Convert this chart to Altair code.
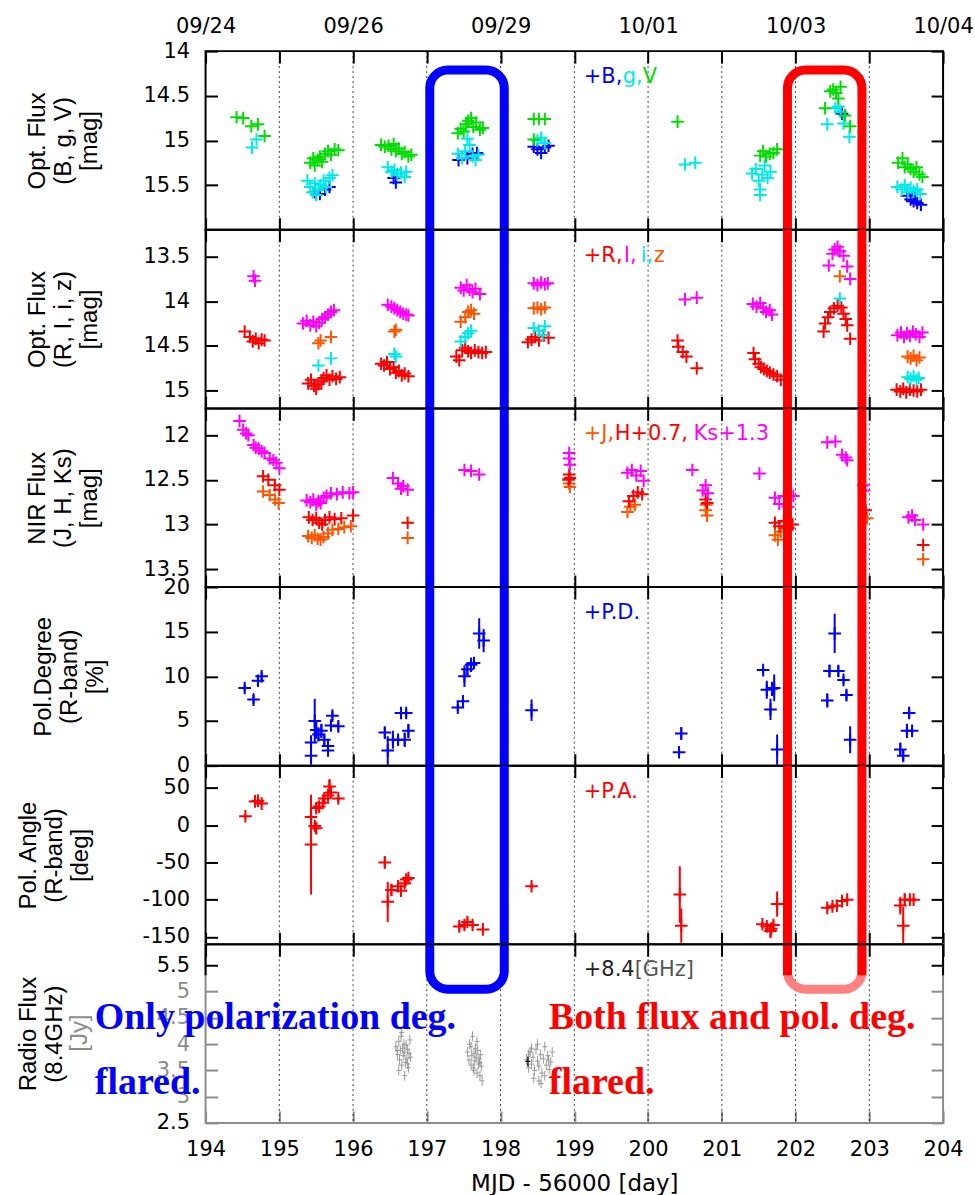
import json
import altair as alt
import pandas as pd

# ======================= DATA =======================
X_TICKS = [194, 195, 196, 197, 198, 199, 200, 201, 202, 203, 204]
GRID_X = [195, 196, 197, 198, 199, 200, 201, 202, 203]
TOP_TICK_MJD = [194, 196, 198, 200, 202, 204]
TOP_TICK_DATES = ["09/24", "09/26", "09/29", "10/01", "10/03", "10/04"]

Y1_TICKS = [14, 14.5, 15, 15.5]
Y2_TICKS = [13.5, 14, 14.5, 15]
Y3_TICKS = [12, 12.5, 13, 13.5]
Y4_TICKS = [0, 5, 10, 15, 20]
Y5_TICKS = [-150, -100, -50, 0, 50]
Y6_TICKS = [2.5, 3, 3.5, 4, 4.5, 5, 5.5]

T1 = ["Opt. Flux", "(B, g, V)", "[mag]"]
T2 = ["Opt. Flux", "(R, I, i, z)", "[mag]"]
T3 = ["NIR Flux", "(J, H, Ks)", "[mag]"]
T4 = ["Pol.Degree", "(R-band)", "[%]"]
T5 = ["Pol. Angle", "(R-band)", "[deg]"]
T6 = ["Radio Flux", "(8.4GHz)"]
T6_UNIT = "[Jy]"
X_TITLE = "MJD - 56000 [day]"

L1 = ["+B,", "g,", "V"]
L2 = ["+R,", "I,", "i,", "z"]
L3 = ["+J,", "H+0.7,", "Ks+1.3"]
L4 = ["+P.D."]
L5 = ["+P.A."]
L6 = ["+8.4", "[GHz]"]
NOTE_BLUE = ["Only polarization deg.", "flared."]
NOTE_RED = ["Both flux and pol. deg.", "flared."]

# Panel 1: B, g, V [mag]
B_BAND = [(195.48, 15.58), (195.55, 15.60), (195.62, 15.55), (195.68, 15.52),
          (196.55, 15.42), (196.58, 15.47),
          (197.43, 15.22), (197.55, 15.20), (197.62, 15.15), (197.68, 15.14),
          (198.45, 15.07), (198.50, 15.10), (198.55, 15.14), (198.60, 15.08), (198.65, 15.06),
          (202.63, 14.70),
          (203.51, 15.62), (203.56, 15.66), (203.60, 15.68), (203.62, 15.60), (203.65, 15.70), (203.70, 15.72)]
G_BAND = [(194.63, 15.08), (194.69, 14.99),
          (195.38, 15.45), (195.42, 15.52), (195.45, 15.58), (195.48, 15.48), (195.50, 15.61), (195.53, 15.55),
          (195.56, 15.50), (195.60, 15.45), (195.63, 15.52), (195.68, 15.42), (195.72, 15.39),
          (196.47, 15.30), (196.52, 15.35), (196.56, 15.33), (196.60, 15.38), (196.65, 15.36), (196.70, 15.41), (196.72, 15.35),
          (197.42, 15.15), (197.48, 15.20), (197.52, 15.12), (197.55, 14.98), (197.58, 15.05), (197.62, 15.18), (197.66, 15.22), (197.70, 15.16),
          (198.50, 15.00), (198.55, 14.97), (198.60, 15.03),
          (200.50, 15.27), (200.64, 15.25),
          (201.41, 15.37), (201.46, 15.32), (201.50, 15.45), (201.52, 15.55), (201.52, 15.61), (201.55, 15.38), (201.58, 15.28), (201.62, 15.42), (201.66, 15.35),
          (202.43, 14.82), (202.54, 14.64), (202.58, 14.62), (202.61, 14.68), (202.65, 14.81), (202.73, 14.96),
          (203.38, 15.52), (203.44, 15.55), (203.48, 15.50), (203.52, 15.58), (203.56, 15.53), (203.60, 15.57), (203.65, 15.55), (203.69, 15.60)]
V_BAND = [(194.42, 14.74), (194.51, 14.75), (194.62, 14.84), (194.71, 14.82), (194.80, 14.95),
          (195.42, 15.25), (195.46, 15.20), (195.48, 15.28), (195.52, 15.22), (195.55, 15.18), (195.58, 15.24),
          (195.62, 15.15), (195.66, 15.12), (195.70, 15.16), (195.75, 15.10), (195.80, 15.11),
          (196.38, 15.05), (196.43, 15.07), (196.48, 15.06), (196.52, 15.10), (196.55, 15.04), (196.58, 15.12),
          (196.62, 15.09), (196.66, 15.15), (196.70, 15.13), (196.75, 15.18), (196.79, 15.16),
          (197.42, 14.92), (197.46, 14.87), (197.50, 14.90), (197.53, 14.82), (197.56, 14.78), (197.60, 14.75),
          (197.63, 14.85), (197.67, 14.80), (197.72, 14.88), (197.76, 14.86),
          (198.45, 14.76), (198.52, 14.76), (198.60, 14.76), (198.45, 14.99),
          (200.40, 14.79),
          (201.52, 15.17), (201.56, 15.12), (201.60, 15.18), (201.65, 15.15), (201.70, 15.14), (201.75, 15.10),
          (202.40, 14.64), (202.47, 14.45), (202.51, 14.43), (202.55, 14.47), (202.58, 14.53), (202.61, 14.40),
          (202.67, 14.72), (202.74, 14.84),
          (203.39, 15.25), (203.45, 15.20), (203.48, 15.30), (203.52, 15.27), (203.56, 15.32), (203.60, 15.35),
          (203.64, 15.30), (203.68, 15.38), (203.72, 15.41)]

# Panel 2: R, I, i, z [mag]
R_BAND = [(194.53, 14.34), (194.60, 14.40), (194.64, 14.45), (194.68, 14.42), (194.72, 14.47), (194.76, 14.43), (194.80, 14.44),
          (195.39, 14.92), (195.43, 14.88), (195.47, 14.95), (195.50, 14.98), (195.53, 14.93), (195.57, 14.90),
          (195.60, 14.86), (195.64, 14.83), (195.68, 14.88), (195.72, 14.84), (195.77, 14.87), (195.82, 14.85),
          (196.38, 14.70), (196.42, 14.72), (196.46, 14.68), (196.50, 14.76), (196.55, 14.74), (196.58, 14.80),
          (196.62, 14.78), (196.66, 14.83), (196.70, 14.81), (196.75, 14.84),
          (197.40, 14.62), (197.44, 14.66), (197.48, 14.55), (197.52, 14.52), (197.56, 14.56), (197.60, 14.58),
          (197.65, 14.55), (197.70, 14.57), (197.75, 14.58), (197.80, 14.57),
          (198.37, 14.46), (198.42, 14.43), (198.47, 14.40), (198.52, 14.44), (198.58, 14.38), (198.65, 14.41),
          (200.40, 14.44), (200.41, 14.51), (200.47, 14.57), (200.52, 14.62), (200.66, 14.75),
          (201.43, 14.58), (201.45, 14.65), (201.50, 14.70), (201.53, 14.74), (201.57, 14.76), (201.61, 14.78),
          (201.65, 14.80), (201.70, 14.82), (201.75, 14.84), (201.80, 14.88),
          (202.38, 14.34), (202.40, 14.25), (202.44, 14.18), (202.47, 14.12), (202.52, 14.08), (202.57, 14.05),
          (202.62, 14.07), (202.65, 14.14), (202.68, 14.20), (202.70, 14.27), (202.74, 14.42),
          (203.37, 14.99), (203.42, 15.01), (203.46, 14.98), (203.50, 15.02), (203.55, 14.99), (203.60, 15.00),
          (203.65, 15.01), (203.70, 14.99)]
I_BAND = [(194.65, 13.72), (194.67, 13.77),
          (195.32, 14.25), (195.37, 14.22), (195.42, 14.27), (195.46, 14.23), (195.50, 14.28), (195.54, 14.24),
          (195.58, 14.20), (195.62, 14.18), (195.66, 14.15), (195.70, 14.12), (195.74, 14.10),
          (196.47, 14.04), (196.52, 14.06), (196.56, 14.08), (196.60, 14.10), (196.64, 14.12), (196.68, 14.14),
          (196.72, 14.15), (196.75, 14.16),
          (197.46, 13.85), (197.50, 13.88), (197.54, 13.82), (197.58, 13.87), (197.62, 13.90), (197.66, 13.86), (197.72, 13.92),
          (198.45, 13.80), (198.50, 13.82), (198.55, 13.79), (198.60, 13.81), (198.64, 13.80),
          (200.50, 13.98), (200.66, 13.96),
          (201.42, 14.03), (201.47, 14.06), (201.52, 14.02), (201.56, 14.08), (201.60, 14.12), (201.65, 14.10), (201.68, 14.15),
          (202.45, 13.60), (202.50, 13.47), (202.53, 13.42), (202.57, 13.39), (202.60, 13.44), (202.65, 13.49),
          (202.70, 13.61), (202.74, 13.75),
          (203.38, 14.38), (203.43, 14.35), (203.47, 14.40), (203.51, 14.36), (203.55, 14.39), (203.59, 14.34),
          (203.63, 14.37), (203.68, 14.40), (203.72, 14.35)]
SI_BAND = [(195.53, 14.72), (195.70, 14.64),
           (196.56, 14.59), (196.58, 14.62),
           (197.46, 14.45), (197.52, 14.40), (197.56, 14.36), (197.60, 14.33),
           (198.45, 14.30), (198.52, 14.33), (198.57, 14.38), (198.60, 14.28),
           (202.60, 13.97),
           (203.52, 14.85), (203.56, 14.87), (203.60, 14.84), (203.64, 14.88), (203.67, 14.86)]
Z_BAND = [(195.53, 14.47), (195.56, 14.44), (195.70, 14.40),
          (196.56, 14.34), (196.58, 14.32),
          (197.46, 14.23), (197.52, 14.18), (197.56, 14.12), (197.60, 14.10), (197.64, 14.14),
          (198.45, 14.08), (198.50, 14.07), (198.55, 14.09), (198.60, 14.07),
          (202.60, 13.72),
          (203.52, 14.62), (203.56, 14.64), (203.60, 14.61), (203.64, 14.66), (203.68, 14.63)]

# Panel 3: J, H+0.7, Ks+1.3 [mag]
J_BAND = [(194.78, 12.63), (194.87, 12.67), (194.94, 12.72), (194.99, 12.76),
          (195.39, 13.13), (195.44, 13.15), (195.48, 13.12), (195.52, 13.16), (195.56, 13.17), (195.60, 13.14),
          (195.66, 13.10), (195.72, 13.06), (195.80, 13.05), (195.88, 13.03), (195.97, 13.02),
          (196.74, 13.15),
          (198.93, 12.54), (198.94, 12.58),
          (199.72, 12.86), (199.76, 12.80), (199.82, 12.78),
          (200.78, 12.84), (200.80, 12.90), (200.79, 12.78),
          (201.72, 13.12), (201.76, 13.17), (201.80, 13.08),
          (202.97, 12.93),
          (203.73, 13.39)]
H_BAND = [(194.78, 12.46), (194.85, 12.50), (194.94, 12.56), (195.00, 12.61),
          (195.40, 12.92), (195.45, 12.95), (195.50, 12.93), (195.54, 12.98), (195.58, 13.00), (195.62, 12.95),
          (195.68, 12.92), (195.75, 12.94), (195.84, 12.93), (196.00, 12.90),
          (196.74, 12.98),
          (198.92, 12.50), (198.93, 12.44), (198.94, 12.48),
          (199.74, 12.74), (199.80, 12.68), (199.86, 12.64), (199.92, 12.66),
          (200.78, 12.72), (200.80, 12.76),
          (201.72, 12.98), (201.78, 13.02), (201.84, 12.96), (201.90, 13.04), (201.96, 13.00),
          (202.95, 12.84),
          (203.73, 13.23)]
KS_BAND = [(194.46, 11.84), (194.51, 11.94), (194.55, 11.98), (194.58, 12.00), (194.65, 12.11), (194.68, 12.14),
           (194.72, 12.15), (194.76, 12.18), (194.80, 12.20), (194.87, 12.26), (194.92, 12.28), (194.96, 12.31), (195.00, 12.37),
           (195.37, 12.73), (195.42, 12.75), (195.46, 12.72), (195.50, 12.78), (195.53, 12.74), (195.56, 12.76),
           (195.60, 12.70), (195.64, 12.68), (195.70, 12.65), (195.78, 12.66), (195.86, 12.64), (195.95, 12.65), (196.00, 12.64),
           (196.54, 12.48), (196.61, 12.54), (196.65, 12.60), (196.68, 12.57), (196.74, 12.61),
           (197.51, 12.39), (197.60, 12.40), (197.71, 12.44),
           (198.93, 12.20), (198.93, 12.26), (198.94, 12.33),
           (199.72, 12.42), (199.78, 12.39), (199.84, 12.45), (199.90, 12.40), (199.94, 12.51),
           (200.60, 12.39),
           (200.74, 12.62), (200.78, 12.56), (200.81, 12.65),
           (201.51, 12.43),
           (201.72, 12.70), (201.78, 12.77), (201.84, 12.68), (201.90, 12.80), (201.97, 12.68),
           (202.43, 12.08), (202.54, 12.07), (202.63, 12.22), (202.68, 12.25), (202.70, 12.28),
           (202.92, 12.56), (202.93, 12.62),
           (203.53, 12.92), (203.58, 12.90), (203.62, 12.95), (203.73, 13.00)]

# Panel 4: polarization degree [%]  (MJD, value, error)
PD = [(194.53, 8.7, 0.4), (194.65, 7.4, 0.5), (194.71, 9.5, 0.5), (194.76, 10.0, 0.5),
      (195.43, 1.1, 1.0), (195.43, 2.6, 0.8), (195.48, 5.0, 2.5), (195.50, 4.0, 1.0), (195.53, 3.5, 0.8),
      (195.57, 3.9, 0.8), (195.61, 2.9, 0.6), (195.66, 2.2, 0.6), (195.66, 1.7, 0.6), (195.70, 4.5, 0.6),
      (195.72, 5.6, 0.5), (195.80, 4.4, 0.5),
      (196.43, 3.7, 0.6), (196.47, 1.7, 1.6), (196.54, 2.9, 1.0), (196.61, 2.9, 0.6), (196.65, 5.9, 0.6),
      (196.70, 2.9, 0.8), (196.72, 5.9, 0.5), (196.75, 3.9, 0.8),
      (197.42, 6.5, 0.4), (197.49, 7.2, 0.4), (197.51, 10.0, 1.2), (197.55, 10.8, 0.8), (197.60, 11.3, 0.8),
      (197.64, 11.5, 0.5), (197.71, 14.8, 1.7), (197.77, 14.0, 1.3),
      (198.42, 6.2, 1.2),
      (200.42, 1.5, 0.4), (200.45, 3.6, 0.7),
      (201.56, 10.7, 0.3), (201.61, 8.5, 1.0), (201.66, 6.3, 1.2), (201.68, 8.6, 0.8), (201.71, 8.7, 1.5), (201.75, 1.8, 1.7),
      (202.43, 7.3, 0.8), (202.46, 10.6, 0.7), (202.53, 14.8, 2.2), (202.58, 10.6, 0.6), (202.65, 9.6, 0.4),
      (202.69, 7.9, 0.6), (202.74, 2.9, 1.5),
      (203.42, 1.8, 0.8), (203.46, 1.1, 0.6), (203.51, 3.9, 0.8), (203.54, 5.9, 0.6), (203.58, 3.9, 0.5)]

# Panel 5: polarization angle [deg]  (MJD, value, error)
PA = [(194.54, 12, 3), (194.67, 32, 4), (194.71, 33, 4), (194.76, 29, 3),
      (195.43, -26, 67), (195.43, 11, 8), (195.48, -1, 6), (195.50, -4, 8), (195.50, 23, 6), (195.54, 25, 6),
      (195.59, 30, 5), (195.61, 36, 6), (195.66, 40, 6), (195.68, 52, 10), (195.70, 44, 6), (195.80, 36, 5),
      (196.43, -50, 8), (196.47, -103, 27), (196.52, -87, 8), (196.61, -82, 6), (196.65, -88, 6),
      (196.70, -78, 6), (196.72, -73, 5), (196.75, -71, 4),
      (197.44, -136, 5), (197.51, -134, 5), (197.55, -130, 5), (197.62, -134, 4), (197.76, -140, 4),
      (198.42, -82, 3),
      (200.43, -93, 38), (200.45, -135, 23),
      (201.55, -133, 4), (201.61, -136, 5), (201.66, -142, 10), (201.67, -139, 6), (201.70, -134, 5), (201.75, -106, 17),
      (202.43, -111, 3), (202.50, -109, 4), (202.56, -108, 4), (202.63, -102, 5), (202.70, -100, 3),
      (203.42, -108, 12), (203.46, -135, 25), (203.48, -100, 8), (203.55, -100, 4), (203.60, -100, 3)]

# Panel 6: radio flux 8.4 GHz [Jy]
RADIO = [(196.58, 3.95), (196.60, 3.80), (196.60, 3.88), (196.62, 4.05), (196.62, 3.50), (196.63, 3.70),
         (196.64, 3.88), (196.65, 4.15), (196.66, 3.60), (196.66, 4.22), (196.67, 3.92), (196.68, 3.78),
         (196.69, 4.00), (196.70, 3.85), (196.70, 3.40), (196.71, 3.65), (196.72, 3.98), (196.73, 3.72),
         (196.74, 3.90), (196.74, 3.62), (196.75, 3.55), (196.76, 3.82), (196.77, 4.08), (196.78, 3.75),
         (197.55, 3.85), (197.57, 3.70), (197.58, 4.00), (197.60, 3.60), (197.60, 3.95), (197.61, 3.78),
         (197.62, 4.15), (197.63, 3.55), (197.64, 3.82), (197.64, 3.50), (197.65, 3.68), (197.66, 3.92),
         (197.67, 3.75), (197.68, 3.45), (197.68, 4.05), (197.69, 3.88), (197.70, 3.62), (197.71, 3.72),
         (197.72, 3.40), (197.72, 3.65), (197.73, 3.80), (197.74, 3.58), (197.75, 3.30),
         (198.35, 3.70), (198.38, 3.55), (198.38, 3.80), (198.40, 3.85), (198.42, 3.62), (198.42, 3.92),
         (198.44, 3.75), (198.45, 3.35), (198.46, 3.50), (198.48, 3.90), (198.50, 3.68), (198.50, 4.00),
         (198.52, 3.58), (198.52, 3.30), (198.54, 3.80), (198.55, 3.25), (198.56, 3.45), (198.58, 3.72),
         (198.60, 3.95), (198.60, 3.40), (198.62, 3.60), (198.64, 3.78), (198.65, 3.70), (198.66, 3.52),
         (198.68, 3.66), (198.70, 3.85)]
RADIO_BLACK = [(198.37, 3.67)]

# ======================= STYLE / LAYOUT =======================
W, H = 739, 179
FONT = "DejaVu Sans"
TFONT = "Liberation Sans"
SERIF = "Liberation Serif"
BLUE, CYAN, GREEN = "#0000ff", "#00e8e8", "#00dd00"
RED, MAGENTA, ORANGE = "#ff0000", "#ff00ff", "#ff5500"
GRAY = "#8c8c8c"
CROSS = "M-1,0L1,0M0,-1L0,1"
RADIO_CROSS = "M-0.5,0L0.5,0M0,-1L0,1"

BLUE_BOX_X = (197.04, 198.05)
RED_BOX_X = (201.89, 202.90)

XS = alt.Scale(domain=[194, 204], nice=False, zero=False)
LBL = "'' + datum.value"
TOP_EXPR = ("indexof({m}, datum.value) >= 0 ? {d}[indexof({m}, datum.value)] : ''"
            .format(m=json.dumps(TOP_TICK_MJD), d=json.dumps(TOP_TICK_DATES)))


def X(axis=None):
    return alt.X("x:Q", scale=XS, axis=axis)


def Y(ys, field="y:Q", axis=None):
    return alt.Y(field, scale=ys, axis=axis)


def left_axis(yticks, title, title_x, label_color="black", tick_color="black"):
    return alt.Axis(orient="left", values=yticks, offset=-12, tickSize=12, tickWidth=2,
                    tickColor=tick_color, domain=False, grid=False, labelPadding=16,
                    labelExpr=LBL, labelFont=FONT, labelFontSize=21, labelColor=label_color,
                    labelOverlap=False, labelFlush=False, title=title, titleFont=TFONT,
                    titleFontSize=24, titleFontWeight="normal", titleLineHeight=26,
                    titleAngle=270, titleAlign="center", titleBaseline="bottom",
                    titleX=title_x, titleY=H / 2, titleColor="black")


def right_axis(yticks, tick_color="black"):
    return alt.Axis(orient="right", values=yticks, offset=-12, tickSize=12, tickWidth=2,
                    tickColor=tick_color, domain=False, grid=False, labels=False, title=None)


def bottom_axis(labels, tick_color="black"):
    kw = dict(orient="bottom", values=X_TICKS, offset=-12, tickSize=12, tickWidth=2,
              tickColor=tick_color, domain=False, grid=False)
    if labels:
        kw.update(labels=True, labelPadding=16, labelExpr=LBL, labelFont=FONT, labelFontSize=21,
                  labelFlush=False, labelOverlap=False, labelColor="black", title=X_TITLE,
                  titleFont=FONT, titleFontSize=23, titleFontWeight="normal",
                  titleBaseline="top", titleY=62, titleColor="black")
    else:
        kw.update(labels=False, title=None)
    return alt.Axis(**kw)


def top_axis(labels):
    kw = dict(orient="top", values=X_TICKS, offset=-12, tickSize=12, tickWidth=2,
              tickColor="black", domain=False, grid=False, title=None)
    if labels:
        kw.update(labels=True, labelPadding=15, labelExpr=TOP_EXPR, labelFont=FONT,
                  labelFontSize=21, labelFlush=False, labelOverlap=False, labelColor="black")
    else:
        kw.update(labels=False)
    return alt.Axis(**kw)


def crosses(pairs, color, ys, shape=CROSS, size=160, sw=2.0):
    df = pd.DataFrame(pairs, columns=["x", "y"])
    return alt.Chart(df).mark_point(shape=shape, size=size, strokeWidth=sw, filled=False,
                                    opacity=1, color=color).encode(x=X(), y=Y(ys))


def errbars(triples, color, ys):
    df = pd.DataFrame(triples, columns=["x", "y", "e"])
    df["lo"] = df["y"] - df["e"]
    df["hi"] = df["y"] + df["e"]
    return alt.Chart(df).mark_rule(color=color, strokeWidth=2, clip=True).encode(
        x=X(), y=Y(ys, "lo:Q"), y2="hi:Q")


def legend(parts, colors, xs, ys_px=26):
    out = []
    for t, c, xp in zip(parts, colors, xs):
        out.append(alt.Chart(pd.DataFrame({"t": [t]})).mark_text(
            align="left", baseline="middle", font=FONT, fontSize=21, color=c
        ).encode(text="t:N", x=alt.value(xp), y=alt.value(ys_px)))
    return out


def boxes(ys, y_top, y_bottom, red_color=RED):
    df = pd.DataFrame({"x": [BLUE_BOX_X[0], RED_BOX_X[0]], "x2": [BLUE_BOX_X[1], RED_BOX_X[1]],
                       "y": [y_top, y_top], "y2": [y_bottom, y_bottom], "c": [BLUE, red_color]})
    return alt.Chart(df).mark_rect(filled=False, fillOpacity=0, strokeWidth=9, cornerRadius=18,
                                   clip=True).encode(
        x=X(), x2="x2:Q", y=Y(ys), y2="y2:Q", stroke=alt.Stroke("c:N", scale=None))


def panel(dom, rev, yticks, title, title_x, data_layers, box_top, box_bottom, legend_layers,
          top_labels=False, bottom_labels=False, radio=False, extra=()):
    ys = alt.Scale(domain=dom, reverse=rev, nice=False, zero=False)
    carrier = pd.DataFrame({"x": [194.0], "y": [dom[0]]})
    if radio:
        lc = {"condition": {"test": "datum.value == 5.5 || datum.value == 2.5", "value": "black"}, "value": GRAY}
        tc = {"condition": {"test": "datum.value == 5.5", "value": "black"}, "value": GRAY}
        la = left_axis(yticks, title, title_x, label_color=lc, tick_color=tc)
        ra = right_axis(yticks, tick_color=tc)
        ba = bottom_axis(bottom_labels, tick_color=GRAY)
    else:
        la = left_axis(yticks, title, title_x)
        ra = right_axis(yticks)
        ba = bottom_axis(bottom_labels)
    ax1 = alt.Chart(carrier).mark_point(opacity=0).encode(x=X(ba), y=Y(ys, axis=la))
    ax2 = alt.Chart(carrier).mark_point(opacity=0).encode(x=X(top_axis(top_labels)), y=Y(ys, axis=ra))
    grid = alt.Chart(pd.DataFrame({"x": GRID_X})).mark_rule(
        color="black", strokeWidth=1, strokeDash=[2, 3], opacity=0.75).encode(x=X())
    layers = [ax1, ax2, grid] + [f(ys) for f in data_layers]
    layers.append(boxes(ys, box_top, box_bottom, red_color=("#ff8080" if radio else RED)))
    layers += [f(ys) for f in extra]
    layers += legend_layers
    ch = alt.layer(*layers).resolve_axis(x="independent", y="independent").properties(width=W, height=H)
    if radio:
        ch = ch.properties(view=alt.ViewBackground(stroke=GRAY, strokeWidth=2))
    return ch


p1 = panel([14, 16], True, Y1_TICKS, T1, -168,
           [lambda s: crosses(B_BAND, BLUE, s), lambda s: crosses(G_BAND, CYAN, s),
            lambda s: crosses(V_BAND, GREEN, s)],
           14.212, 17.5, legend(L1, [BLUE, CYAN, GREEN], [379, 418, 438]), top_labels=True)

p2 = panel([13.2, 15.2], True, Y2_TICKS, T2, -168,
           [lambda s: crosses(R_BAND, RED, s), lambda s: crosses(I_BAND, MAGENTA, s),
            lambda s: crosses(SI_BAND, CYAN, s), lambda s: crosses(Z_BAND, ORANGE, s)],
           12.0, 16.5, legend(L2, [RED, MAGENTA, CYAN, ORANGE], [379, 419, 436, 449]))

p3 = panel([11.7, 13.7], True, Y3_TICKS, T3, -168,
           [lambda s: crosses(J_BAND, ORANGE, s), lambda s: crosses(H_BAND, RED, s),
            lambda s: crosses(KS_BAND, MAGENTA, s)],
           10.5, 15.0, legend(L3, [ORANGE, RED, MAGENTA], [379, 410, 489]))

p4 = panel([0, 20], False, Y4_TICKS, T4, -162,
           [lambda s: errbars(PD, BLUE, s), lambda s: crosses([(a, b) for a, b, _ in PD], BLUE, s)],
           30, -10, legend(L4, [BLUE], [379]))

p5 = panel([-160, 80], False, Y5_TICKS, T5, -177,
           [lambda s: errbars(PA, RED, s), lambda s: crosses([(a, b) for a, b, _ in PA], RED, s)],
           150, -250, legend(L5, [RED], [379]))


def red_top_segments(ys):
    df = pd.DataFrame({"x": [RED_BOX_X[0], RED_BOX_X[1]]})
    return alt.Chart(df).mark_rule(color=RED, strokeWidth=9).encode(
        x=X(), y=alt.value(0), y2=alt.value(31))


def black_frame_top(ys):
    df = pd.DataFrame({"x": [194.0, 204.0]})
    return alt.Chart(df).mark_rule(color="black", strokeWidth=2).encode(
        x=X(), y=alt.value(0), y2=alt.value(31))


def frame_top_line(ys):
    return alt.Chart(pd.DataFrame({"a": [0]})).mark_rule(color="black", strokeWidth=2).encode(
        x=alt.value(0), x2=alt.value(W), y=alt.value(0))


notes = []
for i, t in enumerate(NOTE_BLUE):
    notes.append(alt.Chart(pd.DataFrame({"t": [t]})).mark_text(
        align="left", baseline="alphabetic", font=SERIF, fontSize=38, fontWeight="bold", color=BLUE
    ).encode(text="t:N", x=alt.value(-111), y=alt.value([85, 150][i])))
for i, t in enumerate(NOTE_RED):
    notes.append(alt.Chart(pd.DataFrame({"t": [t]})).mark_text(
        align="left", baseline="alphabetic", font=SERIF, fontSize=38, fontWeight="bold", color=RED
    ).encode(text="t:N", x=alt.value(344), y=alt.value([85, 150][i])))
unit = alt.Chart(pd.DataFrame({"t": [T6_UNIT]})).mark_text(
    align="center", baseline="middle", font=TFONT, fontSize=24, angle=270, color=GRAY
).encode(text="t:N", x=alt.value(-126), y=alt.value(89))

p6 = panel([2.5, 5.9], False, Y6_TICKS, T6, -177,
           [lambda s: crosses(RADIO, "#999999", s, shape=RADIO_CROSS, size=100, sw=1.0),
            lambda s: crosses(RADIO_BLACK, "black", s, shape=RADIO_CROSS, size=100, sw=1.2)],
           8.0, 5.045,
           legend(L6, ["#222222", "#555555"], [379, 430]) + notes + [unit],
           bottom_labels=True, radio=True,
           extra=(red_top_segments, black_frame_top, frame_top_line))

chart = alt.vconcat(p1, p2, p3, p4, p5, p6, spacing=0, bounds="flush").properties(
    padding={"left": 16, "top": 13, "right": 0, "bottom": 0}
).configure_view(stroke="black", strokeWidth=2)

chart.save("out.html", embed_options={"renderer": "svg", "actions": False})
